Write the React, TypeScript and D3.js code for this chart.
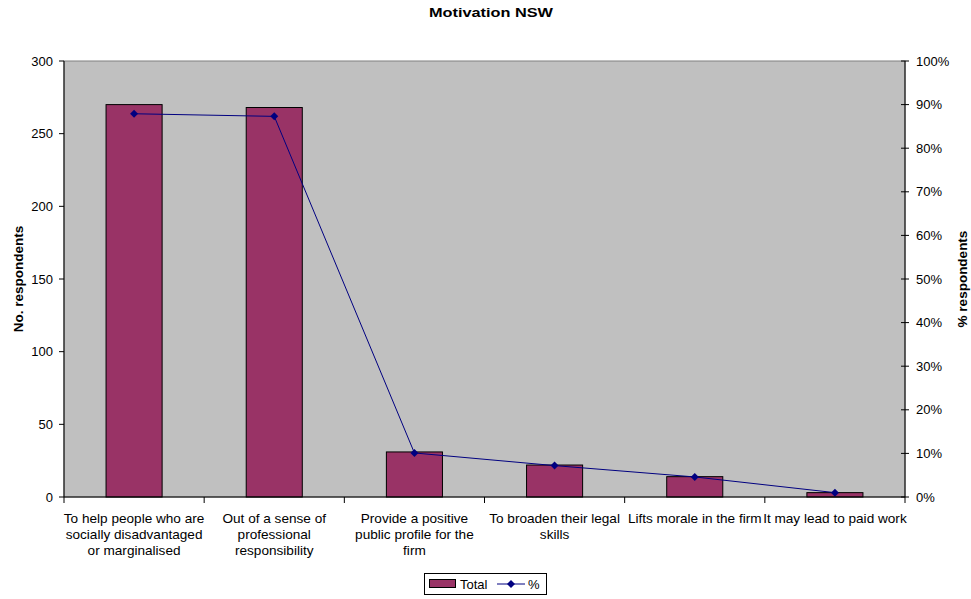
import React from "react";
import * as d3 from "d3";

const categories: string[][] = [
  ["To help people who are", "socially disadvantaged", "or marginalised"],
  ["Out of a sense of", "professional", "responsibility"],
  ["Provide a positive", "public profile for the", "firm"],
  ["To broaden their legal", "skills"],
  ["Lifts morale in the firm"],
  ["It may lead to paid work"],
];
const totals = [270, 268, 31, 22, 14, 3];
const percents = [0.879, 0.873, 0.101, 0.072, 0.046, 0.01];
const leftTicks = [0, 50, 100, 150, 200, 250, 300];
const rightTicks = [0, 0.1, 0.2, 0.3, 0.4, 0.5, 0.6, 0.7, 0.8, 0.9, 1.0];

const W = 971, H = 599;
const L = 64, R = 905, T = 61, B = 497;
const font = "'Liberation Sans', Arial, sans-serif";

export default function App() {
  const idx = categories.map((_, i) => i);
  const x = d3.scaleBand<number>().domain(idx).range([L, R]).paddingInner(0.6).paddingOuter(0.3);
  const xb = d3.scaleBand<number>().domain(idx).range([L, R]);
  const y = d3.scaleLinear().domain([0, 300]).range([B, T]);
  const y2 = d3.scaleLinear().domain([0, 1]).range([B, T]);
  const line = d3.line<number>().x((_, i) => xb(i)! + xb.bandwidth() / 2).y((d) => y2(d));
  const pct = d3.format(".0%");

  return (
    <svg width={W} height={H} style={{ position: "absolute", left: 0, top: 0 }} fontFamily={font}>
      <rect x={0} y={0} width={W} height={H} fill="#fff" />
      <text x={491} y={17} textAnchor="middle" fontSize={13.5} fontWeight="bold" textLength={124} lengthAdjust="spacingAndGlyphs">Motivation NSW</text>
      <rect x={L} y={T} width={R - L} height={B - T} fill="#C0C0C0" stroke="#808080" strokeWidth={1} />
      {totals.map((v, i) => (
        <rect key={i} x={x(i)} y={y(v)} width={x.bandwidth()} height={B - y(v)} fill="#993366" stroke="#000" strokeWidth={1} />
      ))}
      <path d={line(percents) || ""} fill="none" stroke="#000080" strokeWidth={1} />
      {percents.map((p, i) => {
        const cx = xb(i)! + xb.bandwidth() / 2, cy = y2(p);
        return <path key={i} d={`M${cx},${cy - 4}L${cx + 4},${cy}L${cx},${cy + 4}L${cx - 4},${cy}Z`} fill="#000080" />;
      })}
      {/* left axis */}
      <line x1={L} x2={L} y1={T} y2={B} stroke="#000" />
      {leftTicks.map((t) => (
        <g key={t}>
          <line x1={L - 5} x2={L} y1={y(t)} y2={y(t)} stroke="#000" />
          <text x={L - 11} y={y(t) + 4.5} textAnchor="end" fontSize={13}>{t}</text>
        </g>
      ))}
      {/* right axis */}
      <line x1={R} x2={R} y1={T} y2={B} stroke="#000" />
      {rightTicks.map((t) => (
        <g key={t}>
          <line x1={R - 4} x2={R + 4} y1={y2(t)} y2={y2(t)} stroke="#000" />
          <text x={R + 11} y={y2(t) + 4.5} textAnchor="start" fontSize={13}>{pct(t)}</text>
        </g>
      ))}
      {/* x axis */}
      <line x1={L} x2={R} y1={B} y2={B} stroke="#000" />
      {idx.concat([6]).map((i) => {
        const xx = i < 6 ? xb(i)! : R;
        return <line key={i} x1={xx} x2={xx} y1={B} y2={B + 6} stroke="#000" />;
      })}
      {categories.map((lines, i) => (
        <text key={i} textAnchor="middle" fontSize={13.6}>
          {lines.map((s, j) => (
            <tspan key={j} x={xb(i)! + xb.bandwidth() / 2} y={523 + j * 16}>{s}</tspan>
          ))}
        </text>
      ))}
      <text transform={`translate(23,${(T + B) / 2}) rotate(-90)`} textAnchor="middle" fontSize={13.5} fontWeight="bold">No. respondents</text>
      <text transform={`translate(967,${(T + B) / 2}) rotate(-90)`} textAnchor="middle" fontSize={13.5} fontWeight="bold">% respondents</text>
      {/* legend */}
      <rect x={424.5} y={573.5} width={122} height={21} fill="#fff" stroke="#000" />
      <rect x={429.5} y={579.5} width={26} height={8} fill="#993366" stroke="#000" />
      <text x={460} y={589} fontSize={13}>Total</text>
      <line x1={497} x2={525} y1={584} y2={584} stroke="#000080" />
      <path d="M511,580L515,584L511,588L507,584Z" fill="#000080" />
      <text x={528} y={589} fontSize={13}>%</text>
    </svg>
  );
}
